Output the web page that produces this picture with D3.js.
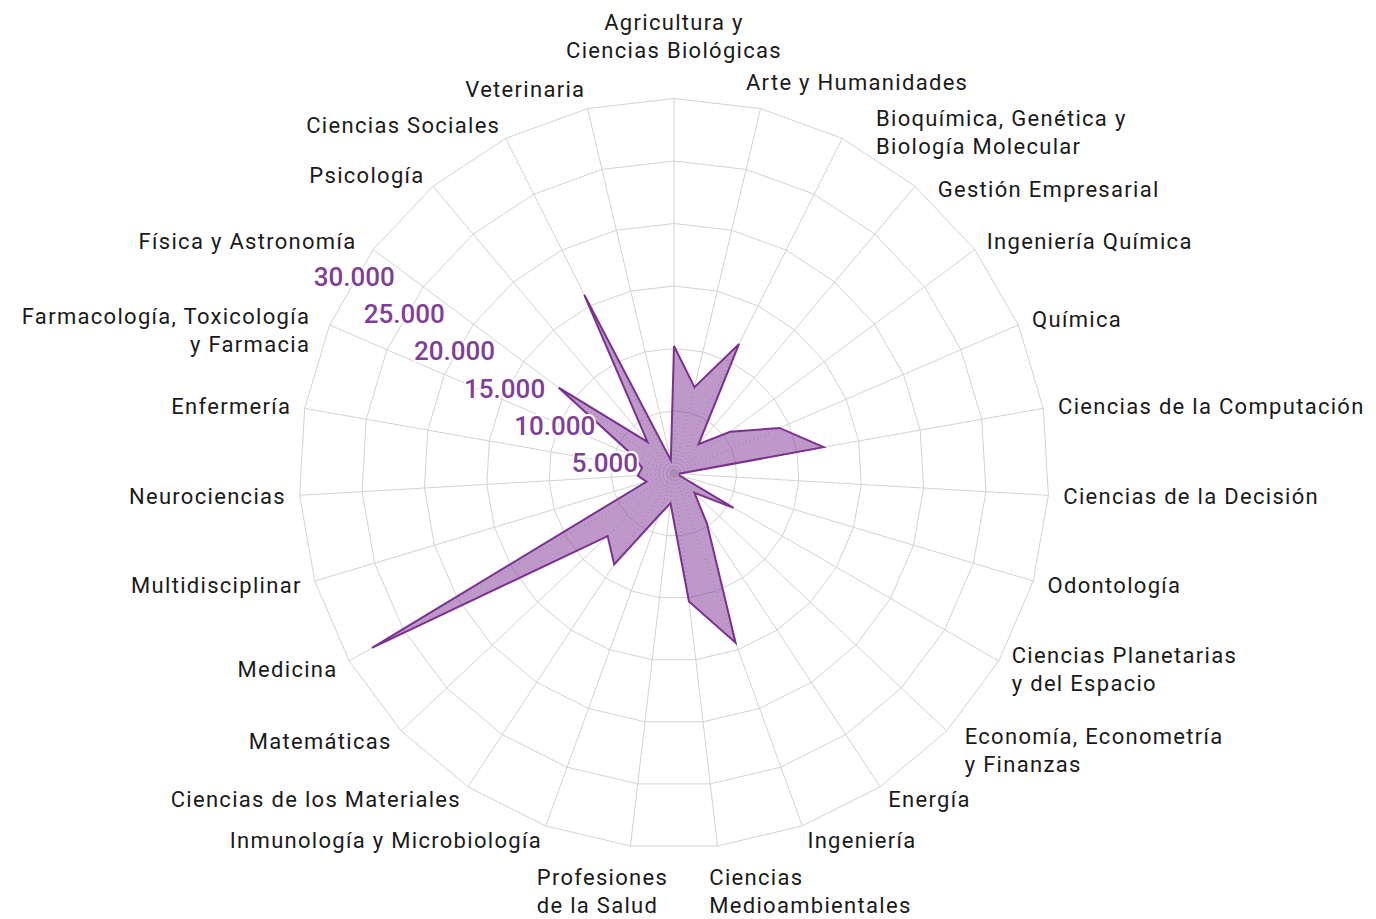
<!DOCTYPE html>
<html>
<head>
<meta charset="utf-8">
<script src="https://cdnjs.cloudflare.com/ajax/libs/d3/7.8.5/d3.min.js"></script>
<style>
  body { margin: 0; background: #fff; }
  svg { display: block; }
</style>
</head>
<body>
<div id="radar_chart"></div>
<script>
// Categories, clockwise from the top ("\n" = line break in the label)
var categories = [
  "Agricultura y\nCiencias Biológicas", "Arte y Humanidades", "Bioquímica, Genética y\nBiología Molecular",
  "Gestión Empresarial", "Ingeniería Química", "Química", "Ciencias de la Computación",
  "Ciencias de la Decisión", "Odontología", "Ciencias Planetarias\ny del Espacio",
  "Economía, Econometría\ny Finanzas", "Energía", "Ingeniería", "Ciencias\nMedioambientales",
  "Profesiones\nde la Salud", "Inmunología y Microbiología", "Ciencias de los Materiales",
  "Matemáticas", "Medicina", "Multidisciplinar", "Neurociencias", "Enfermería",
  "Farmacología, Toxicología\ny Farmacia", "Física y Astronomía", "Psicología",
  "Ciencias Sociales", "Veterinaria"
];

// Number of documents per category
var values = [
  10200, 7100, 11600, 3050, 5600, 9200, 12150,
  400, 350, 5500, 2250, 4800, 14400, 10300,
  2400, 3600, 8700, 7300, 27900, 2300, 2900,
  2600, 3500, 11500, 3300, 16000, 1100
];

// Radial axis
var tickValues = [5000, 10000, 15000, 20000, 25000, 30000];
var maxValue = 30000;

// Layout config
var config = {
  "div_id": "radar_chart",
  "width": 1376,
  "height": 919,
  "center_x": 674,
  "center_y": 473.5,
  "radius": 375,
  "label_radius": 390,
  "label_line_height": 28,
  "tick_axis_index": 23,
  "grid_color": "#d2d2d2",
  "fill_color": "#7b3294",
  "fill_opacity": 0.5,
  "stroke_color": "#7b318f",
  "tick_color": "#7f3f98",
  "label_color": "#1a1a1a",
  "font": "Roboto, 'Noto Sans', sans-serif"
};

// Hand nudges for labels the original layout pushed apart
var labelNudge = {
  0:  { dx: 0,   dy: -48 },
  1:  { dx: -18, dy: -12 },
  2:  { dx: 27,  dy: 7 },
  3:  { dx: 13,  dy: 14 },
  10: { dx: 7,   dy: 9 },
  13: { dx: -10, dy: 30 },
  14: { dx: -92, dy: 30, anchor: "start" },
  22: { dx: -7,  dy: 11 },
  23: { dx: -6,  dy: 0 },
  26: { dx: 0,   dy: -5 }
};

var n = categories.length;
var angle = function(i) { return i * 2 * Math.PI / n; };
var r = d3.scaleLinear().domain([0, maxValue]).range([0, config.radius]);
var fmt = d3.formatLocale({ decimal: ",", thousands: ".", grouping: [3], currency: ["", "€"] }).format(",.0f");

var svg = d3.select("#" + config.div_id)
  .append("svg")
    .attr("width", config.width)
    .attr("height", config.height);

var g = svg.append("g")
    .attr("transform", "translate(" + config.center_x + "," + config.center_y + ")");

// Grid rings (polygons)
g.append("g")
    .attr("class", "rings")
  .selectAll("path")
  .data(tickValues)
  .enter()
  .append("path")
    .attr("d", function(v) {
      return d3.lineRadial()
        .angle(function(d, i) { return angle(i); })
        .radius(r(v))
        .curve(d3.curveLinearClosed)(categories);
    })
    .style("fill", "none")
    .style("stroke", config.grid_color)
    .style("stroke-width", 1);

// Spokes
var spokes = g.append("g").attr("class", "spokes");
spokes.selectAll("line")
  .data(categories)
  .enter()
  .append("line")
    .attr("x1", 0).attr("y1", 0)
    .attr("x2", function(d, i) { return r(maxValue) * Math.sin(angle(i)); })
    .attr("y2", function(d, i) { return -r(maxValue) * Math.cos(angle(i)); })
    .style("stroke", config.grid_color)
    .style("stroke-width", 1);

// Data shape
var shape = d3.lineRadial()
  .angle(function(d, i) { return angle(i); })
  .radius(function(d) { return r(d); })
  .curve(d3.curveLinearClosed);

svg.append("defs").append("clipPath")
    .attr("id", "shape_clip")
  .append("path")
    .attr("d", shape(values));

g.append("path")
    .attr("d", shape(values))
    .style("fill", config.fill_color)
    .style("fill-opacity", config.fill_opacity)
    .style("stroke", "none");

// Light dotted grid seen through the fill
g.append("g")
    .attr("clip-path", "url(#shape_clip)")
  .selectAll("line")
  .data(categories)
  .enter()
  .append("line")
    .attr("x1", 0).attr("y1", 0)
    .attr("x2", function(d, i) { return r(maxValue) * Math.sin(angle(i)); })
    .attr("y2", function(d, i) { return -r(maxValue) * Math.cos(angle(i)); })
    .style("stroke", "#fff")
    .style("stroke-opacity", 0.35)
    .style("stroke-dasharray", "2,2")
    .style("stroke-width", 1);

g.append("path")
    .attr("d", shape(values))
    .style("fill", "none")
    .style("stroke", config.stroke_color)
    .style("stroke-width", 2)
    .style("stroke-linejoin", "miter");

g.append("circle")
    .attr("r", 5)
    .style("fill", "#a98cb3");

// Tick labels along one axis
var ta = angle(config.tick_axis_index);
g.append("g")
    .attr("class", "ticks")
  .selectAll("text")
  .data(tickValues)
  .enter()
  .append("text")
    .attr("x", function(v) { return r(v) * Math.sin(ta) - 19; })
    .attr("y", function(v) { return -r(v) * Math.cos(ta) + 36; })
    .attr("text-anchor", "middle")
    .style("font-family", config.font)
    .style("font-size", "26px")
    .style("font-weight", 500)
    .style("fill", config.tick_color)
    .style("stroke", "#fff")
    .style("stroke-width", 4)
    .style("stroke-linejoin", "round")
    .style("paint-order", "stroke")
    .text(function(v) { return fmt(v); });

// Category labels
var labels = g.append("g").attr("class", "labels")
  .selectAll("text")
  .data(categories)
  .enter()
  .append("text")
    .style("font-family", config.font)
    .style("font-size", "22px")
    .style("letter-spacing", "1.3px")
    .style("fill", config.label_color)
    .each(function(d, i) {
      var a = angle(i),
          s = Math.sin(a),
          nudge = labelNudge[i] || { dx: 0, dy: 0 },
          px = config.label_radius * s + nudge.dx,
          py = -config.label_radius * Math.cos(a) + nudge.dy,
          anchor = Math.abs(s) < 0.05 ? "middle" : (s > 0 ? "start" : "end"),
          lines = d.split("\n"),
          el = d3.select(this);
      if (nudge.anchor) anchor = nudge.anchor;
      if (anchor === "end") px += 1.3;
      el.attr("text-anchor", anchor);
      lines.forEach(function(line, k) {
        el.append("tspan")
          .attr("x", px)
          .attr("y", py + (k - (lines.length - 1) / 2) * config.label_line_height + 8)
          .text(line);
      });
    });
</script>
</body>
</html>
